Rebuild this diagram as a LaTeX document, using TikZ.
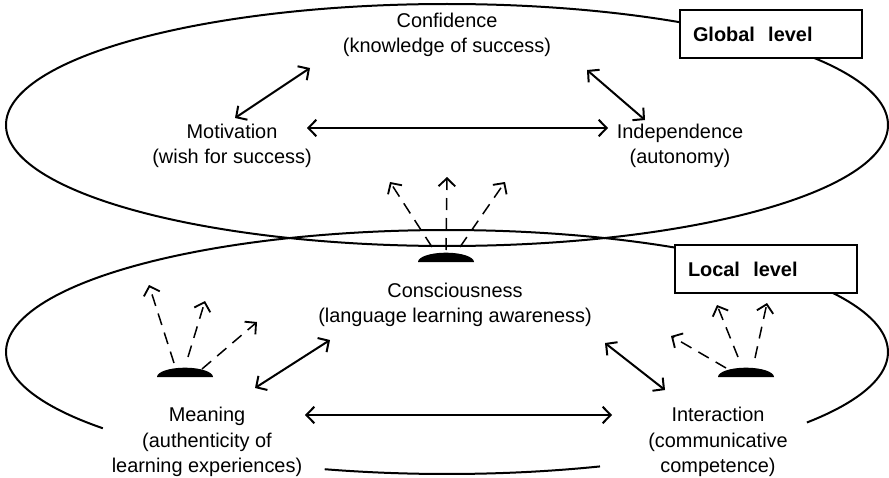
\documentclass[tikz,border=0pt]{standalone}
\usepackage{fontspec}
\setmainfont{Liberation Sans}
\usetikzlibrary{shapes,arrows,arrows.meta,positioning,calc}
\tikzset{
txt/.style = {align=center, inner sep=2pt, font=\fontsize{17}{21.8}\selectfont},
levelbox/.style = {draw, fill=white, line width=0.6mm, minimum height=1.44cm, inner xsep=0.39cm, text width=4.68cm, align=left, font=\fontsize{17}{21.8}\selectfont\bfseries},
ring/.style = {line width=0.6mm},
link/.style = {<->, line width=0.6mm},
ray/.style = {-{Straight Barb[length=2.4mm, width=5mm, line width=0.55mm]}, line width=0.45mm, dash pattern=on 3.6mm off 2.4mm},
lamp/.style = {fill=black}
}
\begin{document}
\begin{tikzpicture}[x=0.03cm, y=-0.03cm, >={Straight Barb[length=2.4mm, width=5mm]}]
\useasboundingbox (0,0) rectangle (889,478);
% the two levels
\draw[ring] (447,125) ellipse (441 and 121);
\draw[ring] plot[domain=-35.3:218.7, samples=150] ({447+441*cos(\x)}, {352-122*sin(\x)});
\draw[ring] plot[domain=253.9:290.3, samples=40] ({447+441*cos(\x)}, {352-122*sin(\x)});
\node[levelbox] (global) at (771,34) {Global\ \ level};
\node[levelbox] (local) at (766,269) {Local\ \ level};
% notions
\node[txt] (confidence) at (447,35) {Confidence\\(knowledge of success)};
\node[txt] (motivation) at (232,146) {Motivation\\(wish for success)};
\node[txt] (independence) at (680,146) {Independence\\(autonomy)};
\node[txt] (consciousness) at (455,305) {Consciousness\\(language learning awareness)};
\node[txt] (meaning) at (207,442) {Meaning\\(authenticity of\\learning experiences)};
\node[txt] (interaction) at (718,442) {Interaction\\(communicative\\competence)};
% arrow ends
\coordinate (mc1) at (235,118); \coordinate (mc2) at (310,68);
\coordinate (mi1) at (307,128); \coordinate (mi2) at (608,128);
\coordinate (ci1) at (587,70);  \coordinate (ci2) at (645,120);
\coordinate (mn1) at (255,388); \coordinate (mn2) at (330,340);
\coordinate (mt1) at (305,415); \coordinate (mt2) at (612,415);
\coordinate (nt1) at (605,343); \coordinate (nt2) at (665,390);
\draw[link] (mc1) -- (mc2);
\draw[link] (mi1) -- (mi2);
\draw[link] (ci1) -- (ci2);
\draw[link] (mn1) -- (mn2);
\draw[link] (mt1) -- (mt2);
\draw[link] (nt1) -- (nt2);
% lamps and their rays
\coordinate (lampC) at (446,262);
\coordinate (lampL) at (185,377);
\coordinate (lampR) at (746,377);
\foreach \l in {lampC,lampL,lampR}
  \fill[lamp] ($(\l)+(-28,0)$) arc[start angle=180, end angle=0, x radius=0.84cm, y radius=0.28cm] -- cycle;
\foreach \l/\a/\b/\c/\d in {lampC/-14/-15/-56/-80, lampC/0/-12/1/-85, lampC/14/-15/59/-80,
    lampL/-11/-14/-36/-92, lampL/3/-20/20/-76, lampL/17/-8/72/-55,
    lampR/-20/-9/-75/-41, lampR/-8/-20/-29/-72, lampR/9/-19/21/-74}
  \draw[ray] ($(\l)+(\a,\b)$) -- ($(\l)+(\c,\d)$);
\end{tikzpicture}
\end{document}
